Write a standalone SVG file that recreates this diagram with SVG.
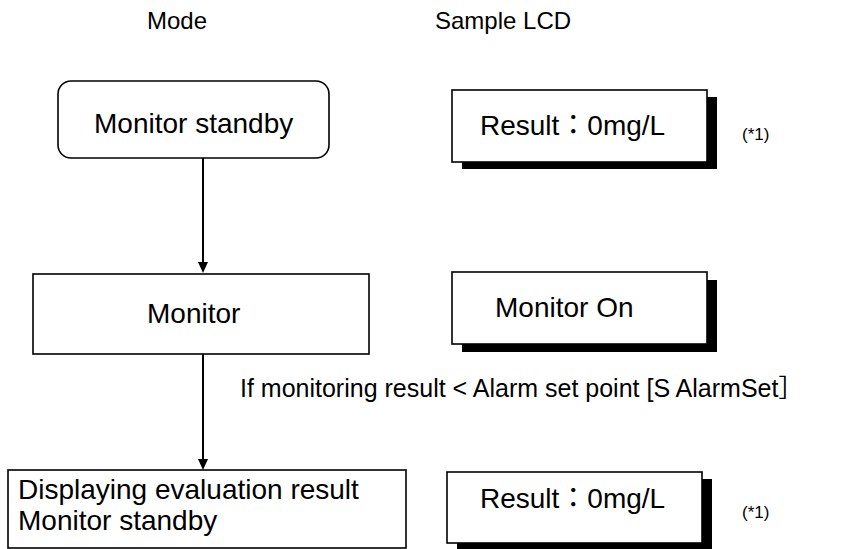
<svg xmlns="http://www.w3.org/2000/svg" width="855" height="549" viewBox="0 0 855 549">
  <style>
    text { font-family: "Liberation Sans", Arial, "Noto Sans CJK JP", sans-serif; fill: #000; }
    .t { font-size: 28px; }
    .h { font-size: 24px; }
    .c { font-size: 25px; }
    .n { font-size: 17px; }
    .box { fill: #fff; stroke: #000; stroke-width: 1.6; }
    .shadow { fill: #000; }
    .conn { stroke: #000; stroke-width: 2; fill: none; }
    .head { fill: #000; }
  </style>
  <rect width="855" height="549" fill="#fff"/>

  <g id="headers">
    <text class="h" x="147" y="29">Mode</text>
    <text class="h" x="435" y="29">Sample LCD</text>
  </g>

  <g id="node-monitor-standby">
    <rect class="box" x="58" y="81" width="271" height="77" rx="13" ry="13"/>
    <text class="t" x="94" y="133">Monitor standby</text>
  </g>

  <g id="node-monitor">
    <rect class="box" x="33" y="274" width="336" height="80"/>
    <text class="t" x="147" y="323">Monitor</text>
  </g>

  <g id="node-result">
    <rect class="box" x="8" y="470" width="398" height="78"/>
    <text class="t" x="18" y="499">Displaying evaluation result</text>
    <text class="t" x="18" y="530">Monitor standby</text>
  </g>

  <g id="lcd-1">
    <rect class="shadow" x="462" y="97" width="255" height="72"/>
    <rect class="box" x="452" y="90" width="255" height="72"/>
    <text class="t" x="480" y="135">Result：0mg/L</text>
    <text class="n" x="742" y="140">(*1)</text>
  </g>

  <g id="lcd-2">
    <rect class="shadow" x="462" y="280" width="255" height="72"/>
    <rect class="box" x="452" y="272" width="255" height="72"/>
    <text class="t" x="495" y="317">Monitor On</text>
  </g>

  <g id="lcd-3">
    <rect class="shadow" x="457" y="479" width="255" height="72"/>
    <rect class="box" x="447" y="472" width="255" height="71"/>
    <text class="t" x="480" y="508">Result：0mg/L</text>
    <text class="n" x="742" y="518">(*1)</text>
  </g>

  <g id="connectors">
    <line class="conn" x1="203" y1="158" x2="203" y2="262"/>
    <path class="head" d="M198,262 L208,262 L203,273 Z"/>
    <line class="conn" x1="203" y1="354" x2="203" y2="459"/>
    <path class="head" d="M198,459 L208,459 L203,470 Z"/>
    <text class="c" x="240" y="397">If monitoring result &lt; Alarm set point [S AlarmSet］</text>
  </g>
</svg>
